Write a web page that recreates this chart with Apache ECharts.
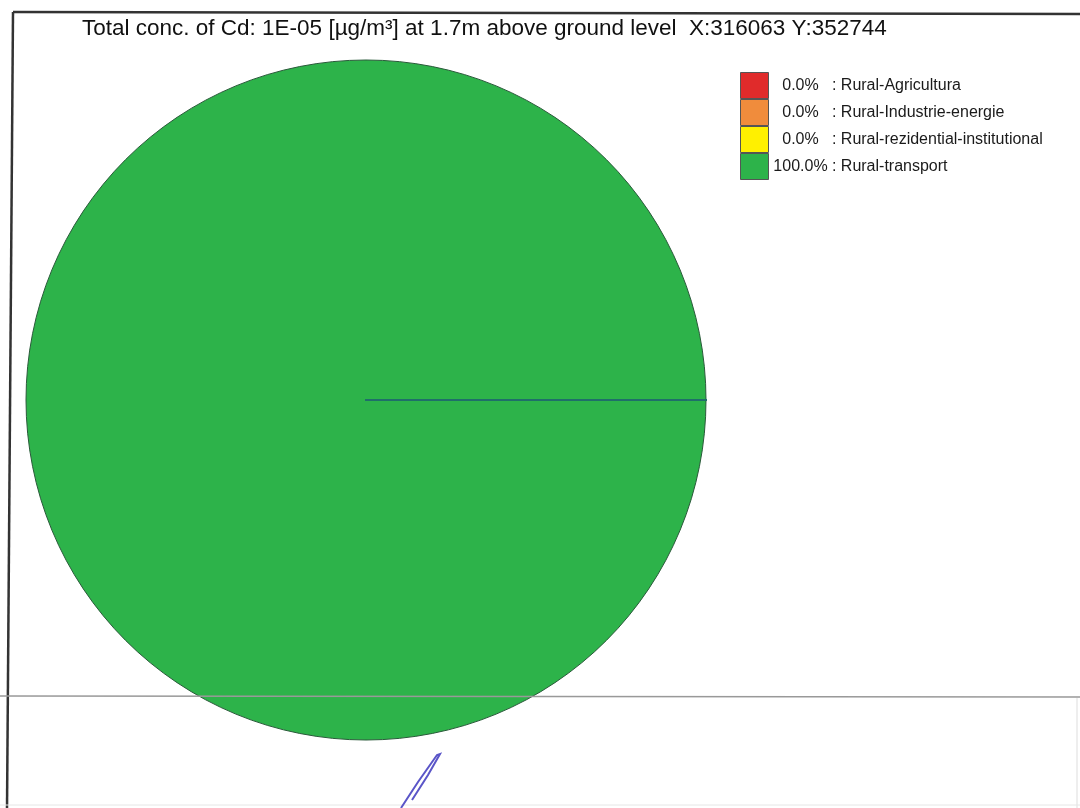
<!DOCTYPE html>
<html>
<head>
<meta charset="utf-8">
<script src="https://cdn.jsdelivr.net/npm/echarts@6/dist/echarts.min.js"></script>
<style>
  html, body { margin: 0; padding: 0; background: #fff; }
  #chart { width: 1080px; height: 808px; }
</style>
</head>
<body>
<div id="chart"></div>
<script>
// source shares (percent)
const sources = ['Rural-Agricultura', 'Rural-Industrie-energie', 'Rural-rezidential-institutional', 'Rural-transport'];
const shares = [0.0, 0.0, 0.0, 100.0];
const sliceColors = ['#e02b2b', '#f08c3c', '#fff000', '#2db34a'];

const titleText = 'Total conc. of Cd: 1E-05 [\u00b5g/m\u00b3] at 1.7m above ground level  X:316063 Y:352744';

const chart = echarts.init(document.getElementById('chart'));

// the full slice goes first so the zero slices (drawn after) leave their edge line on top
const order = [3, 0, 1, 2];
const pieData = order.map(i => ({
    name: sources[i],
    value: shares[i],
    itemStyle: {
        color: sliceColors[i],
        borderColor: shares[i] === 0 ? '#1f6f6a' : '#2a5a3a',
        borderWidth: shares[i] === 0 ? 2 : 1
    }
}));

const option = {
    backgroundColor: '#fff',
    animation: false,
    title: {
        text: titleText,
        left: 77,
        top: 12,
        textStyle: {
            fontFamily: 'Liberation Sans, Arial, sans-serif',
            fontSize: 22.5,
            fontWeight: 'normal',
            color: '#111'
        }
    },
    legend: {
        orient: 'vertical',
        left: 735,
        top: 67,
        itemWidth: 28,
        itemHeight: 26,
        itemGap: 0,
        icon: 'rect',
        data: sources,
        itemStyle: { borderColor: '#555', borderWidth: 1 },
        formatter: name => {
            const v = shares[sources.indexOf(name)];
            return '{p|' + v.toFixed(1) + '%}{n| : ' + name + '}';
        },
        textStyle: {
            fontFamily: 'Liberation Sans, Arial, sans-serif',
            fontSize: 16,
            color: '#1a1a1a',
            rich: {
                p: { width: 54, align: 'right', fontSize: 16, color: '#1a1a1a' },
                n: { fontSize: 16, color: '#1a1a1a' }
            }
        }
    },
    series: [
        {
            type: 'pie',
            center: [366, 400],
            radius: 340,
            startAngle: 0,
            clockwise: true,
            minAngle: 0,
            stillShowZeroSum: true,
            avoidLabelOverlap: false,
            label: { show: false },
            labelLine: { show: false },
            emphasis: { disabled: true },
            data: pieData
        }
    ],
    graphic: [
        // page frame and scan lines
        { type: 'line', shape: { x1: 13, y1: 12, x2: 1080, y2: 14 }, style: { stroke: '#333', lineWidth: 2.5 } },
        { type: 'line', shape: { x1: 13, y1: 12, x2: 7, y2: 808 }, style: { stroke: '#333', lineWidth: 2.5 } },
        { type: 'line', shape: { x1: 0, y1: 696, x2: 1080, y2: 697 }, style: { stroke: '#999', lineWidth: 1.5 }, z: 100 },
        { type: 'line', shape: { x1: 1077, y1: 698, x2: 1077, y2: 808 }, style: { stroke: '#ddd', lineWidth: 1 } },
        { type: 'line', shape: { x1: 0, y1: 805, x2: 1080, y2: 805 }, style: { stroke: '#e6e6e6', lineWidth: 1 } },
        // pen mark
        {
            type: 'polyline',
            shape: { points: [[401, 808], [418, 782], [437, 755], [440, 754], [428, 775], [412, 800]] },
            style: { stroke: '#5a55c8', lineWidth: 2, fill: null }
        }
    ]
};

chart.setOption(option);
</script>
</body>
</html>
